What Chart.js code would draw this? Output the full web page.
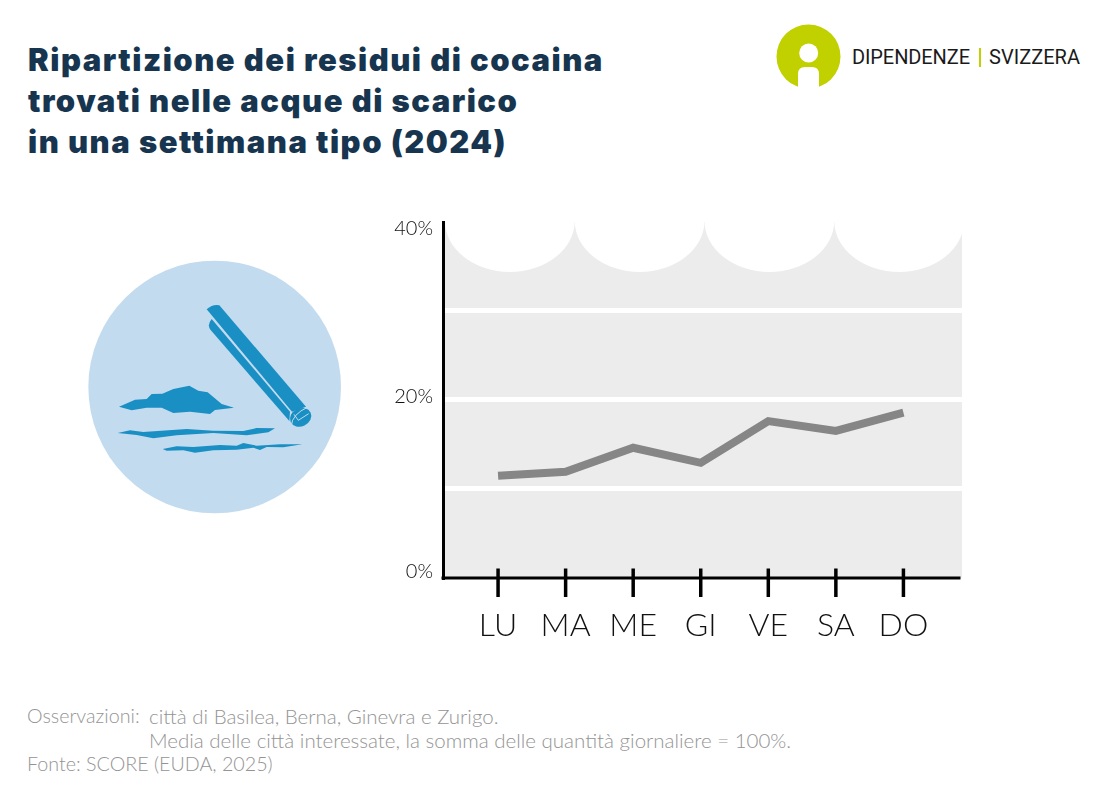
<!DOCTYPE html>
<html>
<head>
<meta charset="utf-8">
<title>Ripartizione dei residui di cocaina</title>
<script src="https://cdn.jsdelivr.net/npm/chart.js@4/dist/chart.umd.min.js"></script>
<style>
  html, body { margin: 0; padding: 0; background: #fff; }
  #page { position: relative; width: 1096px; height: 796px; overflow: hidden; }
  #title { position: absolute; left: 28px; top: 39px; margin: 0; font: 900 31px/41px Inter, sans-serif; color: #17354f; letter-spacing: 1.5px; white-space: nowrap; }
  #notes { position: absolute; left: 27px; top: 704px; font: 300 19.7px/24px Lato, sans-serif; color: #949494; white-space: nowrap; }
  #notes span { position: absolute; left: 122px; font-size: 20.5px; }
  #logo, #icon { position: absolute; }
  #logo { left: 760px; top: 10px; }
  #icon { left: 80px; top: 255px; }
  #chart { position: absolute; left: 380px; top: 200px; }
</style>
</head>
<body>
<div id="page">
  <h1 id="title">Ripartizione dei residui di cocaina<br>trovati nelle acque di scarico<br>in una settimana tipo (2024)</h1>

  <svg id="logo" width="330" height="90" viewBox="0 0 330 90">
    <defs><clipPath id="logoClip"><rect x="0" y="0" width="330" height="77"></rect></clipPath></defs>
    <g clip-path="url(#logoClip)">
      <circle cx="48.5" cy="46.5" r="32" fill="#c1d100"></circle>
      <path d="M38 78 V64 Q38 57 45 57 H52 Q59 57 59 64 V78 Z" fill="#fff"></path>
    </g>
    <circle cx="48.7" cy="43" r="9.5" fill="#fff"></circle>
    <text x="92" y="54" font-family="Roboto, sans-serif" font-size="20" textLength="118" lengthAdjust="spacing" fill="#1a1a1a">DIPENDENZE</text>
    <rect x="219" y="38" width="2" height="19" fill="#c1d100"></rect>
    <text x="229" y="54" font-family="Roboto, sans-serif" font-size="20" textLength="91" lengthAdjust="spacing" fill="#1a1a1a">SVIZZERA</text>
  </svg>

  <svg id="icon" width="270" height="265" viewBox="0 0 810 795">
    <circle cx="404" cy="396" r="379" fill="#c3dbef"></circle>
    <g fill="#1a8fc4">
      <path d="M380 163 Q398 147 418 151 L678 455 L636 470 Z"></path>
      <path d="M395 192 L630 470 L628 498 L392 225 Q380 210 395 192 Z"></path>
      <ellipse cx="662" cy="487" rx="33" ry="27" transform="rotate(-25 662 487)"></ellipse>
      <path d="M117 455 L165 434 L200 432 L215 417 L247 416 L280 402 L328 392 L355 407 L383 412 L425 447 L462 458 L405 465 L390 477 L330 470 L280 474 L245 458 L200 458 L155 466 Z"></path>
      <path d="M113 534 L150 526 L190 531 L320 522 L400 527 L490 528 L530 519 L585 520 L565 532 L500 541 L400 534 L290 541 L220 550 L170 540 Z"></path>
      <path d="M248 582 L290 574 L340 576 L420 570 L470 572 L490 564 L530 572 L600 568 L667 568 L610 577 L560 576 L540 585 L520 578 L470 584 L400 586 L345 593 L310 586 L260 587 Z"></path>
    </g>
    <path d="M634 512 Q636 478 684 456 M642 478 L655 496 L686 476" fill="none" stroke="#c3dbef" stroke-width="3"></path>
  </svg>

  <canvas id="chart" width="600" height="460"></canvas>

  <div id="notes">Osservazioni: <span>città di Basilea, Berna, Ginevra e Zurigo.</span><br>
    <span>Media delle città interessate, la somma delle quantità giornaliere = 100%.</span><br>
    Fonte: SCORE (EUDA, 2025)</div>
</div>

<script>
var days = ['LU', 'MA', 'ME', 'GI', 'VE', 'SA', 'DO'];
var shares = [11.45, 11.9, 14.6, 12.9, 17.6, 16.5, 18.55];
var yLabels = [0, 20, 40];

// the grey "water" panel with its scalloped top, below the gridlines
var waterPanel = {
  id: 'waterPanel',
  beforeDraw: function(chart) {
    var ctx = chart.ctx, area = chart.chartArea;
    var w = (area.right - area.left) / 4;
    ctx.save();
    ctx.fillStyle = '#ececec';
    ctx.fillRect(area.left, area.top, area.right - area.left, area.bottom - area.top);
    ctx.fillStyle = '#fff';
    for (var i = 0; i < 4; i++) {
      ctx.beginPath();
      ctx.ellipse(area.left + 2 + w * (i + 0.5), area.top - 1, w / 2, 51, 0, 0, Math.PI);
      ctx.fill();
    }
    ctx.restore();
    // the y labels in the original sit off their values
    var shift = { '40%': 7, '20%': -3, '0%': -6 };
    chart.scales.y.getLabelItems(area).forEach(function(item) {
      if (shift[item.label] && !item.moved) {
        item.options.translation[1] += shift[item.label];
        item.moved = true;
      }
    });
  }
};

// x axis line and the ticks that cross it
var crossTicks = {
  id: 'crossTicks',
  afterDatasetsDraw: function(chart) {
    var ctx = chart.ctx, area = chart.chartArea, x = chart.scales.x;
    ctx.save();
    ctx.strokeStyle = '#000';
    ctx.lineWidth = 3;
    ctx.beginPath();
    ctx.moveTo(area.left - 1.5, area.bottom + 0.5);
    ctx.lineTo(area.right - 1.5, area.bottom + 0.5);
    ctx.stroke();
    ctx.lineWidth = 3.5;
    x.ticks.forEach(function(t) {
      var px = x.getPixelForValue(t.value);
      ctx.beginPath();
      ctx.moveTo(px, area.bottom - 9);
      ctx.lineTo(px, area.bottom + 19.5);
      ctx.stroke();
    });
    ctx.restore();
  }
};

new Chart(document.getElementById('chart'), {
  type: 'line',
  data: {
    datasets: [{
      data: days.map(function(d, i) { return { x: i, y: shares[i] }; }),
      borderColor: '#868686',
      borderWidth: 8,
      borderCapStyle: 'butt',
      borderJoinStyle: 'miter',
      tension: 0,
      pointRadius: 0
    }]
  },
  options: {
    responsive: false,
    animation: false,
    layout: { padding: { top: 20, right: 18, left: 0, bottom: 0 } },
    plugins: { legend: { display: false }, tooltip: { enabled: false } },
    scales: {
      x: {
        type: 'linear',
        min: -0.815,
        max: 6.867,
        afterFit: function(s) { s.height = 82.5; },
        border: { display: false },
        grid: { display: false },
        ticks: {
          stepSize: 1,
          includeBounds: false,
          maxRotation: 0,
          autoSkip: false,
          padding: 21,
          color: '#111',
          font: { family: 'Lato', size: 32, weight: 300 },
          callback: function(v) { return days[v]; }
        }
      },
      y: {
        min: 0,
        max: 40,
        afterFit: function(s) { s.width = 63; },
        border: { display: true, color: '#000', width: 3 },
        grid: {
          drawTicks: false,
          lineWidth: 5,
          color: function(c) { return (c.tick.value > 0 && c.tick.value < 40) ? '#fff' : 'rgba(0,0,0,0)'; }
        },
        ticks: {
          stepSize: 10,
          autoSkip: false,
          padding: 10,
          color: '#111',
          font: { family: 'Lato', size: 20, weight: 300 },
          callback: function(v) { return yLabels.indexOf(v) >= 0 ? v + '%' : ''; }
        }
      }
    }
  },
  plugins: [waterPanel, crossTicks]
});
</script>
</body>
</html>
